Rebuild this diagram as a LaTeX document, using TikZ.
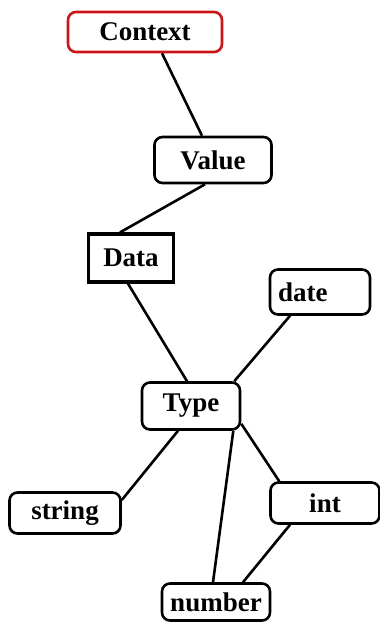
\documentclass[tikz,border=0pt]{standalone}
\usepackage{fontspec}
\setmainfont{Liberation Serif}
\usepackage{tikz}
\usepackage{xcolor}
\definecolor{ctxred}{RGB}{205,20,25}

\begin{document}
\begin{tikzpicture}[x=1pt,y=-1pt,
  box/.style={draw,line width=2.6pt,rounded corners=8pt,inner sep=0pt,font=\fontsize{27}{30}\selectfont\bfseries},
  link/.style={line width=2.6pt}]
  \useasboundingbox (0,0) rectangle (380,622);
  \node[box,draw=ctxred,minimum width=154pt,minimum height=40pt] (ctx) at (145,32) {Context};
  \node[box,minimum width=117pt,minimum height=46pt] (val) at (213,160) {Value};
  \node[box,rounded corners=0pt,line width=3.2pt,minimum width=85pt,minimum height=48pt] (dat) at (131,258) {Data};
  \node[box,text width=84pt,inner xsep=8pt,align=left,minimum height=45pt] (date) at (320,292) {date};
  \node[box,minimum width=98pt,minimum height=47pt] (typ) at (191,406) {Type};
  \node[box,minimum width=111pt,minimum height=41pt] (str) at (65,513) {string};
  \node[box,minimum width=109pt,minimum height=41pt] (int) at (325,503) {int};
  \node[box,minimum width=108pt,minimum height=37pt] (num) at (216,602) {number};
  \draw[link] ([xshift=17pt]ctx.south) -- ([xshift=-11pt]val.north);
  \draw[link] ([xshift=-8pt]val.south) -- ([xshift=-11pt]dat.north);
  \draw[link] ([xshift=-3pt]dat.south) -- ([xshift=-4pt]typ.north);
  \draw[link] ([xshift=-30pt]date.south) -- ([xshift=-7pt]typ.north east);
  \draw[link] ([xshift=-13pt]typ.south) -- ([yshift=13pt]str.east);
  \draw[link] ([xshift=-8pt]typ.south east) -- ([xshift=-3pt]num.north);
  \draw[link] ([yshift=7pt]typ.south east) -- ([xshift=10pt]int.north west);
  \draw[link] ([xshift=-35pt]int.south) -- ([xshift=27pt]num.north);
\end{tikzpicture}
\end{document}
